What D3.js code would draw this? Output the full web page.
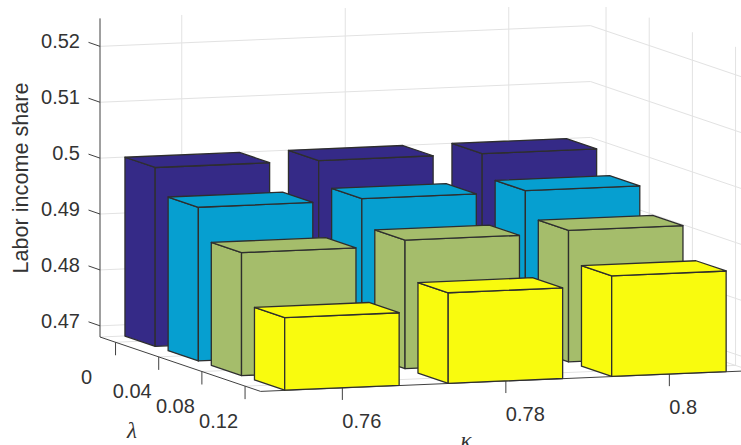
<!DOCTYPE html>
<html><head><meta charset="utf-8">
<script src="https://cdn.jsdelivr.net/npm/d3@7/dist/d3.min.js"></script>
<style>html,body{margin:0;padding:0;background:#fff;overflow:hidden}svg{display:block}</style>
</head><body><svg id="c" width="741" height="445"></svg>
<script>
const kappas = [0.76, 0.78, 0.8];
const kappaLabels = ["0.76", "0.78", "0.8"];
const lambdas = [0, 0.04, 0.08, 0.12];
const lambdaLabels = ["0", "0.04", "0.08", "0.12"];
const zTicks = [0.47, 0.48, 0.49, 0.5, 0.51, 0.52];
const zLabels = ["0.47", "0.48", "0.49", "0.5", "0.51", "0.52"];
const lambda0 = [0.5000, 0.5000, 0.5000];
const lambda004 = [0.4955, 0.4958, 0.4960];
const lambda008 = [0.4900, 0.4910, 0.4915];
const lambda012 = [0.4810, 0.4842, 0.4860];
const seriesValues = [lambda0, lambda004, lambda008, lambda012];
const colors = ["#352a87", "#069fd0", "#a5bd6b", "#f9fb0e"];

const kDom = [0.75, 0.81], lDom = [-0.0144, 0.1344], zDom = [0.468, 0.525];
const barHalfK = 0.007, barHalfL = 0.014;
const O = [100, 337];
const kX = d3.scaleLinear().domain(kDom).range([0, 490.5]);
const kY = d3.scaleLinear().domain(kDom).range([0, -20.7]);
const lX = d3.scaleLinear().domain(lDom).range([0, 160.6]);
const lY = d3.scaleLinear().domain(lDom).range([0, 54.4]);
const zY = d3.scaleLinear().domain(zDom).range([0, -318.6]);
const P = (k, l, z) => [O[0] + kX(k) + lX(l), O[1] + kY(k) + lY(l) + zY(z)];

const svg = d3.select("#c");
const ink = "#404040", gridC = "#e2e2e2", font = "'Liberation Sans',Arial,sans-serif";
svg.append("defs").append("clipPath").attr("id", "top")
  .append("rect").attr("x", 0).attr("y", 7).attr("width", 741).attr("height", 438);
const line = d3.line();
const seg = (g, a, b, c, w) => g.append("path").attr("d", line([a, b])).attr("fill", "none").attr("stroke", c).attr("stroke-width", w);

// grid
const grid = svg.append("g").attr("clip-path", "url(#top)");
const [k0, k1] = kDom, [l0, l1] = lDom, [z0, z1] = zDom;
zTicks.forEach(z => {
  seg(grid, P(k0, l0, z), P(k1, l0, z), gridC, 1);
  seg(grid, P(k1, l0, z), P(k1, l1, z), gridC, 1);
});
kappas.forEach(k => {
  seg(grid, P(k, l0, z0), P(k, l0, z1), gridC, 1);
  seg(grid, P(k, l0, z0), P(k, l1, z0), gridC, 1);
});
lambdas.forEach(l => {
  seg(grid, P(k1, l, z0), P(k1, l, z1), gridC, 1);
  seg(grid, P(k0, l, z0), P(k1, l, z0), gridC, 1);
});
seg(grid, P(k0, l0, z0), P(k1, l0, z0), gridC, 1);
seg(grid, P(k1, l0, z0), P(k1, l1, z0), gridC, 1);

// axes
const axes = svg.append("g");
seg(axes, P(k0, l0, z0), P(k0, l0, z1), ink, 1);
seg(axes, P(k0, l0, z0), P(k0, l1, z0), ink, 1);
seg(axes, P(k0, l1, z0), P(k1, l1, z0), ink, 1);
const txt = (x, y, s, a) => axes.append("text").attr("x", x).attr("y", y).attr("text-anchor", a)
  .attr("font-family", font).attr("font-size", 20).attr("fill", "#333").text(s);
zTicks.forEach((z, i) => {
  const p = P(k0, l0, z);
  seg(axes, p, [p[0] - 11.5, p[1] - 4], ink, 1);
  txt(p[0] - 20, p[1] + 2, zLabels[i], "end");
});
lambdas.forEach((l, i) => {
  const p = P(k0, l, z0);
  seg(axes, p, [p[0], p[1] + 13], ink, 1);
  txt(p[0] - (i === 0 ? 29 : 26.5), p[1] + 41.5, lambdaLabels[i], "middle");
});
kappas.forEach((k, i) => {
  const p = P(k, l1, z0);
  seg(axes, p, [p[0], p[1] + 12], ink, 1);
  txt(p[0], p[1] + 40, kappaLabels[i], "start");
});
axes.append("text").attr("transform", "translate(28,178) rotate(-90)").attr("text-anchor", "middle")
  .attr("font-family", font).attr("font-size", 21.6).attr("fill", "#333").text("Labor income share");
const greek = (x, y, s) => axes.append("text").attr("x", x).attr("y", y).attr("text-anchor", "middle")
  .attr("font-family", "'Liberation Serif',serif").attr("font-style", "italic").attr("font-size", 23).attr("fill", "#333").text(s);
greek(132, 438, "λ");
greek(466, 448, "κ");

// bars, back to front
const bars = svg.append("g");
lambdas.forEach((l, li) => {
  kappas.forEach((k, ki) => {
    const z = seriesValues[li][ki];
    const a = k - barHalfK, b = k + barHalfK, c = l - barHalfL, d = l + barHalfL;
    const faces = [
      [P(a, c, z0), P(a, d, z0), P(a, d, z), P(a, c, z)],
      [P(a, d, z0), P(b, d, z0), P(b, d, z), P(a, d, z)],
      [P(a, c, z), P(a, d, z), P(b, d, z), P(b, c, z)]
    ];
    faces.forEach(f => bars.append("path").attr("d", d3.line()(f) + "Z")
      .attr("fill", colors[li]).attr("stroke", "#2e2e2e").attr("stroke-width", 1.3).attr("stroke-linejoin", "round"));
  });
});
</script></body></html>
